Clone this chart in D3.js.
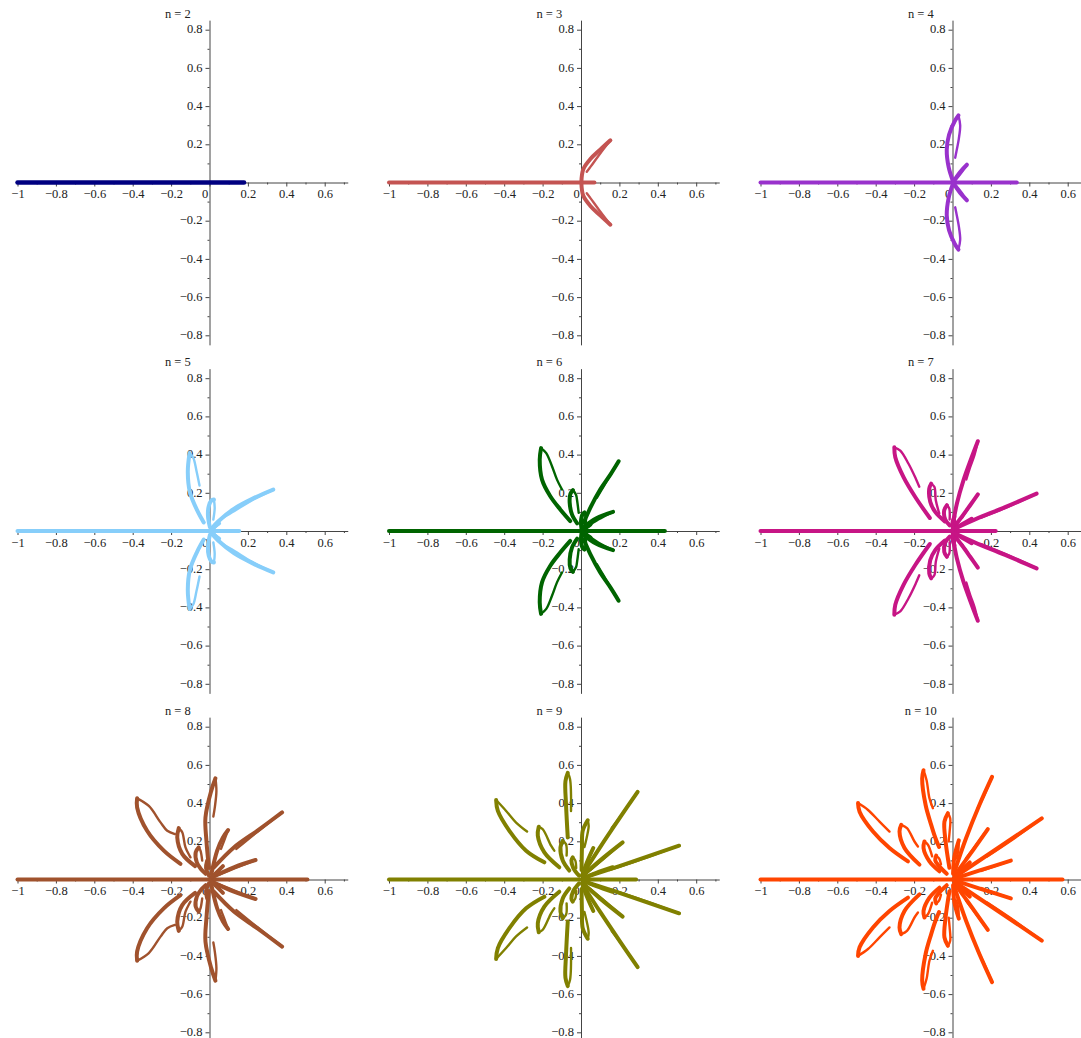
<!DOCTYPE html>
<html>
<head>
<meta charset="utf-8">
<script src="https://cdn.jsdelivr.net/npm/d3@7"></script>
<style>
  body { margin: 0; background: #fff; }
  svg text { font-family: "Liberation Serif", "Times New Roman", serif; font-size: 12.5px; fill: #222; }
</style>
</head>
<body>
<svg id="chart" width="1081" height="1038"></svg>
<script>
"use strict";

// one panel per n
const titles = ['n = 2', 'n = 3', 'n = 4', 'n = 5', 'n = 6', 'n = 7', 'n = 8', 'n = 9', 'n = 10'];
const colors = ['#000080', '#c45452', '#9932cc', '#87cefa', '#006400', '#c71585', '#a0522d', '#808000', '#ff4500'];
// right end of the segment of real roots (they all start at -1)
const realEnds = [0.18, 0.07, 0.335, 0.155, 0.437, 0.225, 0.51, 0.287, 0.573];

const xTicks = [-1, -0.8, -0.6, -0.4, -0.2, 0, 0.2, 0.4, 0.6];
const xMinor = [-0.9, -0.7, -0.5, -0.3, -0.1, 0.1, 0.3, 0.5, 0.7];
const yTicks = [-0.8, -0.6, -0.4, -0.2, 0.2, 0.4, 0.6, 0.8];
const yMinor = [-0.7, -0.5, -0.3, -0.1, 0.1, 0.3, 0.5, 0.7];

// Each petal (upper half plane only): [dense side from origin to tip, sparse side from tip back].
// The lower half is the complex conjugate, drawn by reflection.
const petals2 = [];

const petals3 = [
  [[[0.002, 0.004], [0.012, 0.07], [0.05, 0.124], [0.1, 0.172], [0.153, 0.221]],
   [[0.153, 0.221], [0.1, 0.152], [0.05, 0.083], [0.03, 0.056]]]
];

const petals4 = [
  [[[0.001, 0.01], [-0.02, 0.08], [-0.03, 0.17], [-0.018, 0.25], [0.012, 0.322], [0.031, 0.351]],
   [[0.031, 0.351], [0.04, 0.3], [0.033, 0.23], [0.02, 0.16], [0.014, 0.13]]],
  [[[0.004, 0.004], [0.04, 0.055], [0.075, 0.093]],
   [[0.075, 0.093], [0.045, 0.05], [0.015, 0.012]]]
];

const petals5 = [
  [[[-0.03, 0.045], [-0.064, 0.108], [-0.102, 0.203], [-0.113, 0.309], [-0.104, 0.408]],
   [[-0.104, 0.408], [-0.085, 0.385], [-0.068, 0.316], [-0.052, 0.238]]],
  [[[0.002, 0.02], [-0.008, 0.08], [-0.004, 0.13], [0.01, 0.16], [0.023, 0.165]],
   [[0.023, 0.165], [0.027, 0.12], [0.02, 0.06]]],
  [[[0.01, 0.012], [0.045, 0.05], [0.127, 0.116], [0.23, 0.172], [0.332, 0.217]],
   [[0.332, 0.217], [0.22, 0.16], [0.13, 0.105], [0.07, 0.07]]],
  [[[0.005, 0.003], [0.03, 0.025], [0.05, 0.04]],
   [[0.05, 0.04], [0.02, 0.01]]]
];

const petals6 = [
  [[[-0.056, 0.052], [-0.108, 0.113], [-0.16, 0.182], [-0.203, 0.269], [-0.215, 0.373], [-0.208, 0.434]],
   [[-0.208, 0.434], [-0.181, 0.408], [-0.151, 0.339], [-0.125, 0.269], [-0.099, 0.217]]],
  [[[-0.02, 0.04], [-0.047, 0.087], [-0.059, 0.148], [-0.055, 0.195], [-0.042, 0.214]],
   [[-0.042, 0.214], [-0.026, 0.19], [-0.021, 0.165], [-0.012, 0.095]]],
  [[[0.003, 0.01], [0.0, 0.05], [0.008, 0.088], [0.018, 0.097]],
   [[0.018, 0.097], [0.026, 0.06], [0.02, 0.02]]],
  [[[0.014, 0.043], [0.049, 0.122], [0.1, 0.217], [0.153, 0.295], [0.196, 0.365]],
   [[0.196, 0.365], [0.144, 0.278], [0.118, 0.234], [0.083, 0.174]]],
  [[[0.012, 0.02], [0.08, 0.067], [0.167, 0.1]],
   [[0.167, 0.1], [0.09, 0.06], [0.03, 0.02]]],
  [[[0.004, 0.002], [0.03, 0.02], [0.05, 0.035]],
   [[0.05, 0.035], [0.02, 0.008]]]
];

const petals7 = [
  [[[-0.118, 0.068], [-0.194, 0.178], [-0.255, 0.282], [-0.298, 0.386], [-0.303, 0.438]],
   [[-0.303, 0.438], [-0.272, 0.421], [-0.229, 0.352], [-0.191, 0.274], [-0.173, 0.232]]],
  [[[-0.04, 0.05], [-0.09, 0.1], [-0.116, 0.153], [-0.121, 0.222], [-0.111, 0.248]],
   [[-0.111, 0.248], [-0.094, 0.23], [-0.087, 0.161], [-0.069, 0.092]]],
  [[[-0.015, 0.03], [-0.038, 0.06], [-0.043, 0.109], [-0.029, 0.135]],
   [[-0.029, 0.135], [-0.017, 0.118], [-0.015, 0.06]]],
  [[[0.005, 0.05], [0.023, 0.144], [0.057, 0.265], [0.1, 0.386], [0.132, 0.47]],
   [[0.132, 0.47], [0.115, 0.4], [0.092, 0.334], [0.072, 0.27]]],
  [[[0.01, 0.025], [0.049, 0.075], [0.092, 0.135], [0.132, 0.192]],
   [[0.132, 0.192], [0.09, 0.13], [0.05, 0.07]]],
  [[[0.008, 0.01], [0.05, 0.035], [0.1, 0.064]],
   [[0.1, 0.064], [0.04, 0.025]]],
  [[[0.014, 0.014], [0.118, 0.061], [0.274, 0.125], [0.438, 0.196]],
   [[0.438, 0.196], [0.28, 0.122], [0.15, 0.07]]],
  [[[0.002, 0.01], [0.0, 0.045], [0.01, 0.075]],
   [[0.01, 0.075], [0.014, 0.04]]]
];

const petals8 = [
  [[[-0.151, 0.082], [-0.238, 0.151], [-0.325, 0.255], [-0.377, 0.377], [-0.377, 0.425]],
   [[-0.377, 0.425], [-0.316, 0.385], [-0.255, 0.299], [-0.22, 0.255], [-0.18, 0.238]]],
  [[[-0.075, 0.07], [-0.142, 0.134], [-0.168, 0.22], [-0.16, 0.269]],
   [[-0.16, 0.269], [-0.142, 0.247], [-0.125, 0.168], [-0.099, 0.116]]],
  [[[-0.02, 0.03], [-0.045, 0.055], [-0.066, 0.09], [-0.072, 0.142], [-0.056, 0.168]],
   [[-0.056, 0.168], [-0.047, 0.151], [-0.038, 0.099]]],
  [[[-0.003, 0.02], [-0.018, 0.06], [-0.012, 0.099]],
   [[-0.012, 0.099], [0.0, 0.06]]],
  [[[-0.003, 0.06], [-0.016, 0.203], [-0.021, 0.325], [0.009, 0.464], [0.031, 0.53]],
   [[0.031, 0.53], [0.036, 0.464], [0.028, 0.38], [0.02, 0.33]]],
  [[[0.01, 0.03], [0.04, 0.151], [0.07, 0.22], [0.097, 0.259]],
   [[0.097, 0.259], [0.075, 0.2], [0.06, 0.16]]],
  [[[0.023, 0.064], [0.127, 0.168], [0.248, 0.255], [0.378, 0.351]],
   [[0.378, 0.351], [0.25, 0.25], [0.14, 0.16]]],
  [[[0.01, 0.01], [0.127, 0.064], [0.24, 0.102]],
   [[0.24, 0.102], [0.13, 0.058], [0.05, 0.025]]],
  [[[0.005, 0.005], [0.04, 0.04], [0.07, 0.07]],
   [[0.07, 0.07], [0.03, 0.025]]]
];

const petals9 = [
  [[[-0.191, 0.09], [-0.286, 0.151], [-0.373, 0.255], [-0.433, 0.359], [-0.442, 0.416]],
   [[-0.442, 0.416], [-0.39, 0.359], [-0.338, 0.298], [-0.281, 0.251]]],
  [[[-0.113, 0.064], [-0.191, 0.142], [-0.225, 0.229], [-0.22, 0.276]],
   [[-0.22, 0.276], [-0.199, 0.263], [-0.156, 0.177], [-0.139, 0.151]]],
  [[[-0.061, 0.047], [-0.095, 0.099], [-0.107, 0.168], [-0.095, 0.203]],
   [[-0.095, 0.203], [-0.078, 0.185], [-0.075, 0.125]]],
  [[[-0.01, 0.02], [-0.04, 0.06], [-0.05, 0.1], [-0.043, 0.116]],
   [[-0.043, 0.116], [-0.03, 0.1], [-0.025, 0.06]]],
  [[[-0.069, 0.22], [-0.078, 0.393], [-0.081, 0.515], [-0.069, 0.558]],
   [[-0.069, 0.558], [-0.057, 0.525], [-0.052, 0.359]]],
  [[[0.003, 0.05], [0.005, 0.168], [0.009, 0.255], [0.035, 0.31]],
   [[0.035, 0.31], [0.04, 0.28], [0.026, 0.203], [0.018, 0.17]]],
  [[[0.005, 0.02], [0.035, 0.1], [0.064, 0.165]],
   [[0.064, 0.165], [0.045, 0.12]]],
  [[[0.01, 0.02], [0.1, 0.1], [0.217, 0.194]],
   [[0.217, 0.194], [0.12, 0.11], [0.05, 0.05]]],
  [[[0.01, 0.03], [0.1, 0.17], [0.2, 0.32], [0.295, 0.459]],
   [[0.295, 0.459], [0.22, 0.35], [0.16, 0.27]]],
  [[[0.015, 0.01], [0.2, 0.07], [0.511, 0.177]],
   [[0.511, 0.177], [0.3, 0.1], [0.15, 0.05]]],
  [[[0.01, 0.005], [0.08, 0.035], [0.165, 0.064]],
   [[0.165, 0.064], [0.08, 0.03]]]
];

const petals10 = [
  [[[-0.232, 0.095], [-0.328, 0.165], [-0.414, 0.251], [-0.484, 0.355], [-0.492, 0.4]],
   [[-0.492, 0.4], [-0.44, 0.364], [-0.38, 0.303], [-0.328, 0.251]]],
  [[[-0.172, 0.078], [-0.25, 0.165], [-0.276, 0.251], [-0.267, 0.286]],
   [[-0.267, 0.286], [-0.237, 0.269], [-0.198, 0.199], [-0.18, 0.173]]],
  [[[-0.07, 0.17], [-0.09, 0.22], [-0.111, 0.286], [-0.14, 0.39], [-0.158, 0.529], [-0.151, 0.572]],
   [[-0.151, 0.572], [-0.135, 0.52], [-0.12, 0.425], [-0.102, 0.373]]],
  [[[-0.068, 0.043], [-0.12, 0.095], [-0.151, 0.165], [-0.146, 0.199]],
   [[-0.146, 0.199], [-0.128, 0.182], [-0.106, 0.121]]],
  [[[-0.03, 0.03], [-0.07, 0.07], [-0.09, 0.1], [-0.085, 0.125]],
   [[-0.085, 0.125], [-0.07, 0.11], [-0.06, 0.08]]],
  [[[-0.016, 0.061], [-0.036, 0.199], [-0.042, 0.303], [-0.024, 0.347]],
   [[-0.024, 0.347], [-0.012, 0.321], [-0.015, 0.25], [-0.02, 0.2]]],
  [[[0.003, 0.03], [0.01, 0.12], [0.033, 0.205]],
   [[0.033, 0.205], [0.03, 0.15], [0.02, 0.11]]],
  [[[0.01, 0.04], [0.071, 0.217], [0.14, 0.39], [0.206, 0.537]],
   [[0.206, 0.537], [0.16, 0.43], [0.13, 0.37]]],
  [[[0.01, 0.02], [0.09, 0.13], [0.184, 0.264]],
   [[0.184, 0.264], [0.1, 0.15], [0.07, 0.11]]],
  [[[0.015, 0.015], [0.2, 0.14], [0.465, 0.32]],
   [[0.465, 0.32], [0.3, 0.2], [0.18, 0.12]]],
  [[[0.01, 0.005], [0.15, 0.05], [0.304, 0.099]],
   [[0.304, 0.099], [0.15, 0.045]]],
  [[[0.005, 0.005], [0.05, 0.05], [0.09, 0.09]],
   [[0.09, 0.09], [0.04, 0.035]]]
];

const petalSets = [petals2, petals3, petals4, petals5, petals6, petals7, petals8, petals9, petals10];

// layout: origin of each panel in pixels, one data unit in pixels
const UNIT_X = 192, UNIT_Y = 191;
const colX = [209.5, 581, 952.5]
    , rowY = [182.5, 531, 879.5];

const svg = d3.select('#chart');

const fmt = d => d === 0 ? '0' : (d < 0 ? '\u2212' : '') + d3.format('~g')(Math.abs(d));

function styleAxis(sel) {
  sel.attr('font-family', null).attr('font-size', null);
  sel.select('.domain').attr('stroke', '#444').attr('stroke-width', 1);
  sel.selectAll('.tick line').attr('stroke', '#444');
  sel.selectAll('.tick text').attr('fill', '#222');
}

titles.forEach((title, i) => {
  const ox = colX[i % 3]
      , oy = rowY[Math.floor(i / 3)];

  const x = d3.scaleLinear()
    .domain([-1, 0.72])
    .range([ox - UNIT_X, ox + 0.72 * UNIT_X]);
  const y = d3.scaleLinear()
    .domain([-0.85, 0.85])
    .range([oy + 0.85 * UNIT_Y, oy - 0.85 * UNIT_Y]);

  const g = svg.append('g').attr('class', 'panel');

  /*
   * Axes through the origin
   ***/
  const xAxisG = g.append('g')
    .attr('transform', `translate(0,${oy})`)
    .call(d3.axisBottom(x).tickValues(xTicks).tickSize(4).tickPadding(3).tickSizeOuter(0).tickFormat(fmt))
    .call(styleAxis);

  xAxisG.selectAll('.tick text')
    .filter(d => d === 0)
    .attr('x', -5);

  g.append('g')
    .attr('transform', `translate(0,${oy})`)
    .call(d3.axisBottom(x).tickValues(xMinor).tickSize(2).tickSizeOuter(0).tickFormat(''))
    .call(styleAxis)
    .select('.domain').remove();

  g.append('g')
    .attr('transform', `translate(${ox},0)`)
    .call(d3.axisLeft(y).tickValues(yTicks).tickSize(4).tickPadding(3).tickSizeOuter(0).tickFormat(fmt))
    .call(styleAxis)
    .selectAll('.tick text')
    .attr('dy', '0.26em');

  g.append('g')
    .attr('transform', `translate(${ox},0)`)
    .call(d3.axisLeft(y).tickValues(yMinor).tickSize(2).tickSizeOuter(0).tickFormat(''))
    .call(styleAxis)
    .select('.domain').remove();

  g.append('text')
    .attr('x', x(-0.165))
    .attr('y', oy - 165)
    .attr('text-anchor', 'middle')
    .text(title);

  /*
   * Roots: real segment plus conjugate pairs of petals
   ***/
  const color = colors[i];

  const lineFor = sign => d3.line()
    .x(d => x(d[0]))
    .y(d => y(sign * d[1]))
    .curve(d3.curveCatmullRom.alpha(0.5));

  g.append('path')
    .attr('d', lineFor(1)([[-1, 0], [realEnds[i], 0]]))
    .attr('fill', 'none')
    .attr('stroke', color)
    .attr('stroke-width', i === 0 ? 4.5 : 4)
    .attr('stroke-linecap', 'round');

  petalSets[i].forEach(([dense, sparse]) => {
    [1, -1].forEach(sign => {
      g.append('path')
        .attr('d', lineFor(sign)(dense))
        .attr('fill', 'none')
        .attr('stroke', color)
        .attr('stroke-width', 4)
        .attr('stroke-linecap', 'round')
        .attr('stroke-linejoin', 'round');

      g.append('path')
        .attr('d', lineFor(sign)(sparse))
        .attr('fill', 'none')
        .attr('stroke', color)
        .attr('stroke-width', 2.4)
        .attr('stroke-linecap', 'round')
        .attr('stroke-linejoin', 'round');
    });
  });
});
</script>
</body>
</html>
